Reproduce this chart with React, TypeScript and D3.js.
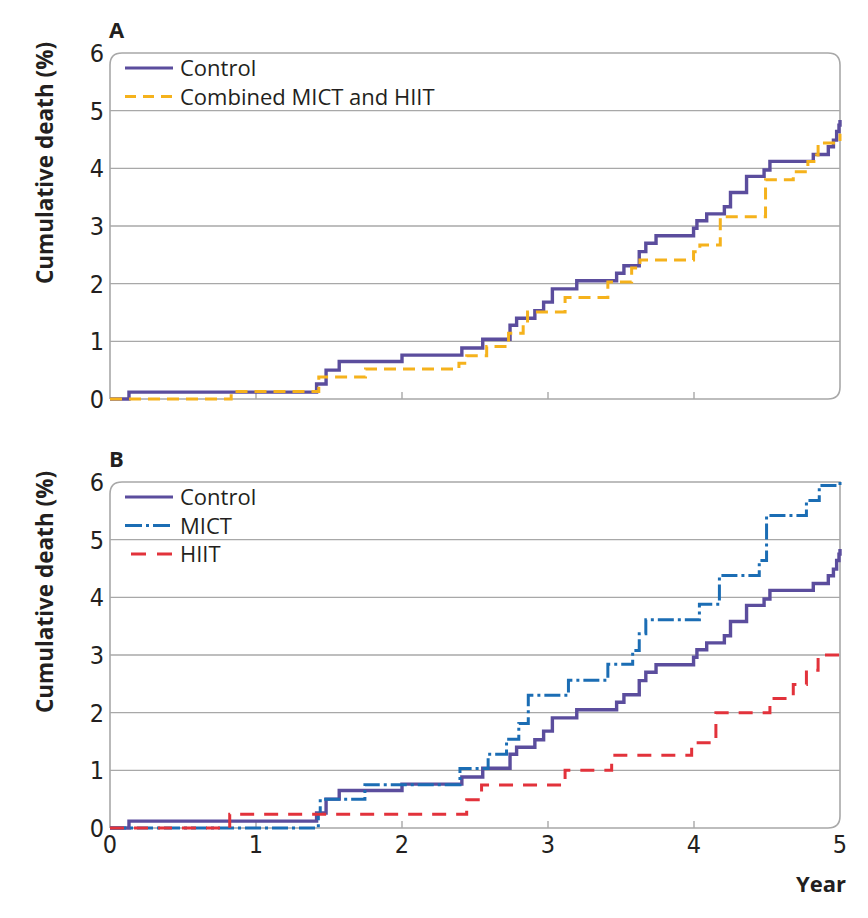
import React from 'react';
import * as d3 from 'd3';

// step points (year, cumulative death %)
const controlYears = [0, 0.13, 1.415, 1.48, 1.57, 2.0, 2.41, 2.553, 2.74, 2.785, 2.91, 2.97, 3.03, 3.197, 3.47, 3.52, 3.625, 3.67, 3.74, 3.997, 4.02, 4.087, 4.208, 4.25, 4.36, 4.48, 4.52, 4.817, 4.92, 4.955, 4.977, 4.993, 5.0];
const controlValues = [0, 0.12, 0.26, 0.5, 0.65, 0.76, 0.885, 1.035, 1.28, 1.4, 1.53, 1.68, 1.91, 2.05, 2.18, 2.31, 2.555, 2.7, 2.83, 2.96, 3.09, 3.21, 3.335, 3.58, 3.86, 3.97, 4.12, 4.24, 4.375, 4.49, 4.64, 4.75, 4.84];

const combinedYears = [0, 0.83, 1.43, 1.75, 2.39, 2.443, 2.58, 2.73, 2.83, 2.86, 3.117, 3.41, 3.573, 3.63, 3.997, 4.04, 4.18, 4.49, 4.68, 4.78, 4.84, 4.85, 5.0];
const combinedValues = [0, 0.13, 0.38, 0.52, 0.62, 0.75, 0.91, 1.14, 1.29, 1.51, 1.76, 2.03, 2.27, 2.41, 2.555, 2.67, 3.16, 3.8, 3.94, 4.12, 4.23, 4.44, 4.6];

const mictYears = [0, 1.427, 1.44, 1.746, 2.397, 2.59, 2.716, 2.8, 2.865, 3.14, 3.41, 3.58, 3.625, 3.67, 4.037, 4.174, 4.447, 4.497, 4.77, 4.858, 5.0];
const mictValues = [0, 0.25, 0.5, 0.75, 1.03, 1.28, 1.54, 1.81, 2.3, 2.56, 2.84, 3.08, 3.37, 3.61, 3.88, 4.38, 4.64, 5.42, 5.68, 5.94, 6.0];

const hiitYears = [0, 0.82, 2.443, 2.545, 3.117, 3.436, 3.984, 4.15, 4.52, 4.68, 4.77, 4.85, 5.0];
const hiitValues = [0, 0.24, 0.49, 0.745, 1.0, 1.26, 1.48, 2.0, 2.245, 2.49, 2.735, 3.0, 3.1];

const xTicks = [0, 1, 2, 3, 4, 5];
const yTicks = [0, 1, 2, 3, 4, 5, 6];

const C_PURPLE = '#5b4d9d';
const C_ORANGE = '#f5b21c';
const C_BLUE = '#1b6db4';
const C_RED = '#e2323b';
const C_GRID = '#a8a8a8';

const tickFont = '"Liberation Sans Narrow", "DejaVu Sans Condensed", sans-serif';
const textFont = '"Open Sans", Lato, sans-serif';

interface Series {
  name: string;
  years: number[];
  values: number[];
  color: string;
  width: number;
  dash?: string;
  legendDash?: string;
  legendX1?: number;
}

const x = d3.scaleLinear().domain([0, 5]).range([110, 840]);

function Panel({ top, label, series, showXLabels, roundTopRight }: {
  top: number; label: string; series: Series[]; showXLabels: boolean; roundTopRight: boolean;
}) {
  const y = d3.scaleLinear().domain([0, 6]).range([top + 346, top]);
  const x0 = x(0), x1 = x(5), y0 = y(0), y1 = y(6);
  const r = 12;
  const frame = [
    `M${x0},${y0}`,
    `L${x0},${y1 + r}`,
    `Q${x0},${y1} ${x0 + r},${y1}`,
    roundTopRight ? `L${x1 - r},${y1} Q${x1},${y1} ${x1},${y1 + r}` : `L${x1},${y1}`,
    `L${x1},${y0 - r}`,
    `Q${x1},${y0} ${x1 - r},${y0}`,
    `L${x0},${y0}`,
  ].join(' ');
  const line = d3.line<[number, number]>()
    .x(d => x(d[0]))
    .y(d => y(d[1]))
    .curve(d3.curveStepAfter);

  return (
    <g>
      <text x={109} y={top - 15} fontFamily={textFont} fontWeight={700} fontSize={22} fill="#231f20">{label}</text>
      <text
        transform={`translate(53,${top + 110}) rotate(-90)`}
        textAnchor="middle"
        fontFamily={textFont}
        fontWeight={700}
        fontSize={22.5}
        fill="#231f20"
      >Cumulative death (%)</text>
      {yTicks.filter(t => t > 0 && t < 6).map(t => (
        <line key={t} x1={x0} x2={x1} y1={y(t)} y2={y(t)} stroke={C_GRID} strokeWidth={1.4} />
      ))}
      {xTicks.filter(t => t > 0 && t < 5).map(t => (
        <line key={t} x1={x(t)} x2={x(t)} y1={y0} y2={y0 - 7} stroke={C_GRID} strokeWidth={1.4} />
      ))}
      <path d={frame} fill="none" stroke={C_GRID} strokeWidth={1.6} />
      {yTicks.map(t => (
        <text key={t} x={104} y={y(t) + 9} textAnchor="end" fontFamily={tickFont} fontSize={25} fill="#231f20">{t}</text>
      ))}
      {showXLabels && xTicks.map(t => (
        <text key={t} x={x(t)} y={y0 + 25} textAnchor="middle" fontFamily={tickFont} fontSize={25} fill="#231f20">{t}</text>
      ))}
      {series.map(s => (
        <path
          key={s.name}
          d={line(s.years.map((yr, i) => [yr, s.values[i]] as [number, number])) || ''}
          fill="none"
          stroke={s.color}
          strokeWidth={s.width}
          strokeDasharray={s.dash}
        />
      ))}
      {series.map((s, i) => {
        const ly = top + 15 + i * 28.5;
        return (
          <g key={s.name}>
            <line x1={s.legendX1 ?? 125} x2={173} y1={ly} y2={ly} stroke={s.color} strokeWidth={3} strokeDasharray={s.legendDash} />
            <text x={180} y={ly + 8} fontFamily={textFont} fontSize={22} fill="#231f20">{s.name}</text>
          </g>
        );
      })}
    </g>
  );
}

export default function App() {
  const seriesA: Series[] = [
    { name: 'Control', years: controlYears, values: controlValues, color: C_PURPLE, width: 3.4 },
    { name: 'Combined MICT and HIIT', years: combinedYears, values: combinedValues, color: C_ORANGE, width: 3, dash: '12 7', legendDash: '11 7' },
  ];
  const seriesB: Series[] = [
    { name: 'Control', years: controlYears, values: controlValues, color: C_PURPLE, width: 3.4 },
    { name: 'MICT', years: mictYears, values: mictValues, color: C_BLUE, width: 3, dash: '16 4 3 4', legendDash: '17 4 3 4' },
    { name: 'HIIT', years: hiitYears, values: hiitValues, color: C_RED, width: 3, dash: '14 10', legendDash: '15 11', legendX1: 131 },
  ];
  return (
    <svg width={868} height={918} style={{ position: 'absolute', left: 0, top: 0, background: '#fff' }}>
      <Panel top={53} label="A" series={seriesA} showXLabels={false} roundTopRight={true} />
      <Panel top={482} label="B" series={seriesB} showXLabels={true} roundTopRight={false} />
      <text x={846} y={892} textAnchor="end" fontFamily={textFont} fontWeight={700} fontSize={22} fill="#231f20">Year</text>
    </svg>
  );
}
